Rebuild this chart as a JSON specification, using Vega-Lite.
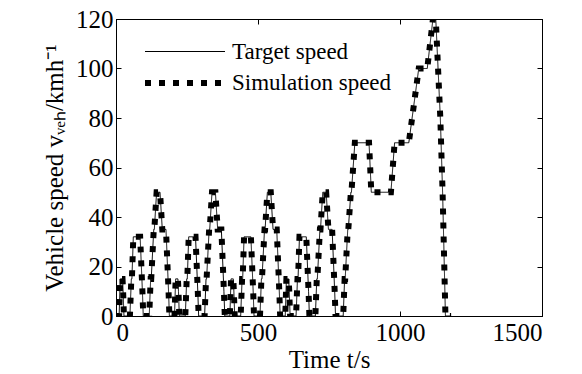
{
  "$schema": "https://vega.github.io/schema/vega-lite/v6.json",
  "width": 426,
  "height": 297,
  "autosize": "none",
  "padding": {"left": 116, "top": 19, "right": 40, "bottom": 58},
  "background": "white",
  "config": {
    "font": "Liberation Serif, Times New Roman, serif",
    "view": {"stroke": "black", "strokeWidth": 1},
    "axis": {
      "grid": false,
      "domainColor": "black",
      "domainWidth": 1,
      "tickColor": "black",
      "tickSize": -5,
      "labelFont": "Liberation Serif, Times New Roman, serif",
      "labelFontSize": 25,
      "labelColor": "black",
      "titleFont": "Liberation Serif, Times New Roman, serif",
      "titleFontSize": 25,
      "titleFontWeight": "normal",
      "titleColor": "black",
      "format": "d"
    },
    "legend": {
      "orient": "none",
      "legendX": 56,
      "legendY": 21,
      "symbolType": "M-4,0H4",
      "symbolSize": 400,
      "symbolStrokeColor": "black",
      "labelFont": "Liberation Serif, Times New Roman, serif",
      "labelFontSize": 23,
      "labelColor": "black",
      "labelOffset": 34,
      "rowPadding": 6,
      "padding": 0,
      "title": null
    }
  },
  "data": {
    "values": [
      {"t": 0, "target": 0, "simulation": 0},
      {"t": 11, "target": 0, "simulation": 0},
      {"t": 15, "target": 15, "simulation": 15},
      {"t": 23, "target": 15, "simulation": 15},
      {"t": 25, "target": 10, "simulation": 10},
      {"t": 28, "target": 0, "simulation": 0},
      {"t": 49, "target": 0, "simulation": 0},
      {"t": 54, "target": 15, "simulation": 15},
      {"t": 56, "target": 15, "simulation": 15},
      {"t": 61, "target": 32, "simulation": 32},
      {"t": 85, "target": 32, "simulation": 32},
      {"t": 93, "target": 10, "simulation": 10},
      {"t": 96, "target": 0, "simulation": 0},
      {"t": 117, "target": 0, "simulation": 0},
      {"t": 122, "target": 15, "simulation": 15},
      {"t": 124, "target": 15, "simulation": 15},
      {"t": 133, "target": 35, "simulation": 35},
      {"t": 135, "target": 35, "simulation": 35},
      {"t": 143, "target": 50, "simulation": 50},
      {"t": 155, "target": 50, "simulation": 50},
      {"t": 163, "target": 35, "simulation": 35},
      {"t": 176, "target": 35, "simulation": 35},
      {"t": 185, "target": 10, "simulation": 10},
      {"t": 188, "target": 0, "simulation": 0},
      {"t": 206, "target": 0, "simulation": 0},
      {"t": 210, "target": 15, "simulation": 15},
      {"t": 218, "target": 15, "simulation": 15},
      {"t": 220, "target": 10, "simulation": 10},
      {"t": 223, "target": 0, "simulation": 0},
      {"t": 244, "target": 0, "simulation": 0},
      {"t": 249, "target": 15, "simulation": 15},
      {"t": 251, "target": 15, "simulation": 15},
      {"t": 256, "target": 32, "simulation": 32},
      {"t": 280, "target": 32, "simulation": 32},
      {"t": 288, "target": 10, "simulation": 10},
      {"t": 291, "target": 0, "simulation": 0},
      {"t": 312, "target": 0, "simulation": 0},
      {"t": 317, "target": 15, "simulation": 15},
      {"t": 319, "target": 15, "simulation": 15},
      {"t": 328, "target": 35, "simulation": 35},
      {"t": 330, "target": 35, "simulation": 35},
      {"t": 338, "target": 50, "simulation": 50},
      {"t": 350, "target": 50, "simulation": 50},
      {"t": 358, "target": 35, "simulation": 35},
      {"t": 371, "target": 35, "simulation": 35},
      {"t": 380, "target": 10, "simulation": 10},
      {"t": 383, "target": 0, "simulation": 0},
      {"t": 401, "target": 0, "simulation": 0},
      {"t": 405, "target": 15, "simulation": 15},
      {"t": 413, "target": 15, "simulation": 15},
      {"t": 415, "target": 10, "simulation": 10},
      {"t": 418, "target": 0, "simulation": 0},
      {"t": 439, "target": 0, "simulation": 0},
      {"t": 444, "target": 15, "simulation": 15},
      {"t": 446, "target": 15, "simulation": 15},
      {"t": 451, "target": 32, "simulation": 32},
      {"t": 475, "target": 32, "simulation": 32},
      {"t": 483, "target": 10, "simulation": 10},
      {"t": 486, "target": 0, "simulation": 0},
      {"t": 507, "target": 0, "simulation": 0},
      {"t": 512, "target": 15, "simulation": 15},
      {"t": 514, "target": 15, "simulation": 15},
      {"t": 523, "target": 35, "simulation": 35},
      {"t": 525, "target": 35, "simulation": 35},
      {"t": 533, "target": 50, "simulation": 50},
      {"t": 545, "target": 50, "simulation": 50},
      {"t": 553, "target": 35, "simulation": 35},
      {"t": 566, "target": 35, "simulation": 35},
      {"t": 575, "target": 10, "simulation": 10},
      {"t": 578, "target": 0, "simulation": 0},
      {"t": 596, "target": 0, "simulation": 0},
      {"t": 600, "target": 15, "simulation": 15},
      {"t": 608, "target": 15, "simulation": 15},
      {"t": 610, "target": 10, "simulation": 10},
      {"t": 613, "target": 0, "simulation": 0},
      {"t": 634, "target": 0, "simulation": 0},
      {"t": 639, "target": 15, "simulation": 15},
      {"t": 641, "target": 15, "simulation": 15},
      {"t": 646, "target": 32, "simulation": 32},
      {"t": 670, "target": 32, "simulation": 32},
      {"t": 678, "target": 10, "simulation": 10},
      {"t": 681, "target": 0, "simulation": 0},
      {"t": 702, "target": 0, "simulation": 0},
      {"t": 707, "target": 15, "simulation": 15},
      {"t": 709, "target": 15, "simulation": 15},
      {"t": 718, "target": 35, "simulation": 35},
      {"t": 720, "target": 35, "simulation": 35},
      {"t": 728, "target": 50, "simulation": 50},
      {"t": 740, "target": 50, "simulation": 50},
      {"t": 748, "target": 35, "simulation": 35},
      {"t": 761, "target": 35, "simulation": 35},
      {"t": 770, "target": 10, "simulation": 10},
      {"t": 773, "target": 0, "simulation": 0},
      {"t": 800, "target": 0, "simulation": 0},
      {"t": 805, "target": 15, "simulation": 15},
      {"t": 807, "target": 15, "simulation": 15},
      {"t": 816, "target": 35, "simulation": 35},
      {"t": 818, "target": 35, "simulation": 35},
      {"t": 827, "target": 50, "simulation": 50},
      {"t": 829, "target": 50, "simulation": 50},
      {"t": 841, "target": 70, "simulation": 70},
      {"t": 891, "target": 70, "simulation": 70},
      {"t": 899, "target": 50, "simulation": 50},
      {"t": 968, "target": 50, "simulation": 50},
      {"t": 981, "target": 70, "simulation": 70},
      {"t": 1031, "target": 70, "simulation": 70},
      {"t": 1066, "target": 100, "simulation": 100},
      {"t": 1096, "target": 100, "simulation": 100},
      {"t": 1116, "target": 120, "simulation": 120},
      {"t": 1126, "target": 120, "simulation": 120},
      {"t": 1142, "target": 80, "simulation": 80},
      {"t": 1150, "target": 50, "simulation": 50},
      {"t": 1160, "target": 0, "simulation": 0},
      {"t": 1180, "target": 0, "simulation": 0}
    ]
  },
  "transform": [
    {"fold": ["target", "simulation"], "as": ["series", "v"]}
  ],
  "layer": [
    {
      "transform": [{"filter": "datum.series == 'target'"}],
      "mark": {"type": "line", "color": "black", "strokeCap": "butt", "clip": true},
      "encoding": {
        "x": {"field": "t", "type": "quantitative",
              "scale": {"domain": [0, 1500], "nice": false},
              "axis": {"values": [0, 500, 1000, 1500], "title": "Time t/s", "labelPadding": 9, "titlePadding": 2}},
        "y": {"field": "v", "type": "quantitative",
              "scale": {"domain": [0, 120], "nice": false},
              "axis": {"values": [0, 20, 40, 60, 80, 100, 120], "title": "Vehicle speed vᵥₑₕ/kmh⁻¹", "labelPadding": 8, "titlePadding": 8}},
        "strokeDash": {"field": "series", "type": "nominal",
              "scale": {"domain": ["target", "simulation"], "range": [[1, 0], [6, 8]]},
              "legend": {"labelExpr": "datum.label == 'target' ? 'Target speed' : 'Simulation speed'"}},
        "strokeWidth": {"field": "series", "type": "nominal",
              "scale": {"domain": ["target", "simulation"], "range": [1, 6]},
              "legend": {"labelExpr": "datum.label == 'target' ? 'Target speed' : 'Simulation speed'"}}
      }
    },
    {
      "transform": [{"filter": "datum.series == 'simulation'"}],
      "mark": {"type": "line", "color": "black", "strokeCap": "butt", "clip": true},
      "encoding": {
        "x": {"field": "t", "type": "quantitative",
              "scale": {"domain": [0, 1500], "nice": false},
              "axis": {"orient": "top", "values": [0, 500, 1000, 1500], "labels": false, "title": null}},
        "y": {"field": "v", "type": "quantitative",
              "scale": {"domain": [0, 120], "nice": false},
              "axis": {"orient": "right", "values": [0, 20, 40, 60, 80, 100, 120], "labels": false, "title": null}},
        "strokeDash": {"field": "series", "type": "nominal",
              "scale": {"domain": ["target", "simulation"], "range": [[1, 0], [6, 8]]},
              "legend": {"labelExpr": "datum.label == 'target' ? 'Target speed' : 'Simulation speed'"}},
        "strokeWidth": {"field": "series", "type": "nominal",
              "scale": {"domain": ["target", "simulation"], "range": [1, 6]},
              "legend": {"labelExpr": "datum.label == 'target' ? 'Target speed' : 'Simulation speed'"}}
      }
    }
  ],
  "resolve": {"axis": {"x": "independent", "y": "independent"}}
}
